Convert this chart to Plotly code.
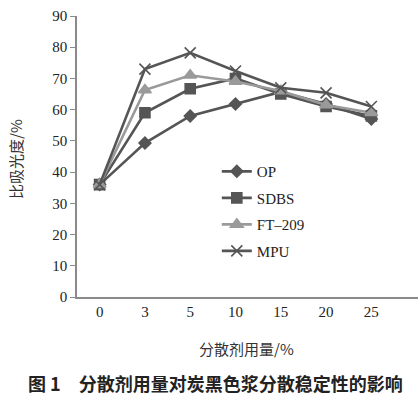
import plotly.graph_objects as go

categories = ["0", "3", "5", "10", "15", "20", "25"]
op = [36, 49.3, 58, 61.8, 65.7, 61.8, 57]
sdbs = [36, 59, 66.7, 70, 65, 61, 58]
ft209 = [36, 66.3, 71, 69, 66, 61.5, 59]
mpu = [36, 73, 78.2, 72.4, 67, 65.4, 61]
y_ticks = [0, 10, 20, 30, 40, 50, 60, 70, 80, 90]

series = [
    ("OP", op, "#555555", "diamond", 9, 1),
    ("SDBS", sdbs, "#555555", "square", 10, 2),
    ("FT\u2013209", ft209, "#9a9a9a", "triangle-up", 11, 3),
    ("MPU", mpu, "#555555", "x-thin", 11, 4),
]

fig = go.Figure()
for name, vals, col, sym, sz, g in series:
    fig.add_trace(go.Scatter(
        x=categories, y=vals, name=name, mode="lines+markers",
        line=dict(color=col, width=2.6),
        marker=dict(symbol=sym, size=sz, color=col,
                    line=dict(color=col, width=1.6)),
        legendgroup=str(g),
    ))

serif = "Liberation Serif, Times New Roman, serif"
cjk = "Noto Sans CJK SC"

fig.update_layout(
    width=420, height=397,
    margin=dict(l=77, r=2, t=16, b=100),
    paper_bgcolor="white", plot_bgcolor="white",
    showlegend=True,
    legend=dict(x=0.41, y=0.505, xanchor="left", yanchor="top",
                font=dict(family=serif, size=15, color="#222"),
                tracegroupgap=4, bgcolor="rgba(0,0,0,0)", itemwidth=30),
    xaxis=dict(type="category", range=[-0.5, 7.03], showgrid=False,
               showline=True, linecolor="#8a8a8a", linewidth=1.5,
               ticks="", tickfont=dict(family=serif, size=15, color="#222"),
               zeroline=False),
    yaxis=dict(range=[0, 90], tickvals=y_ticks, showgrid=False,
               showline=True, linecolor="#8a8a8a", linewidth=1.5,
               ticks="outside", ticklen=5, tickcolor="#8a8a8a",
               tickfont=dict(family=serif, size=15, color="#222"),
               zeroline=False),
    annotations=[
        dict(text="分散剂用量/%", xref="paper", yref="paper",
             x=(246 - 77) / 341, y=-(348 - 297) / 281, showarrow=False,
             xanchor="center", yanchor="middle",
             font=dict(family=cjk, size=15, color="#333")),
        dict(text="比吸光度/%", xref="paper", yref="paper",
             x=-(77 - 15) / 341, y=(297 - 159) / 281, showarrow=False,
             textangle=-90, xanchor="center", yanchor="middle",
             font=dict(family=cjk, size=15, color="#333")),
        dict(text="<b>图 1　分散剂用量对炭黑色浆分散稳定性的影响</b>",
             xref="paper", yref="paper",
             x=(215 - 77) / 341, y=-(383 - 297) / 281, showarrow=False,
             xanchor="center", yanchor="middle",
             font=dict(family=cjk, size=18, color="#222")),
    ],
)

fig.write_html("out.html", config={"displayModeBar": False},
               post_script="document.body.style.margin='0';")
